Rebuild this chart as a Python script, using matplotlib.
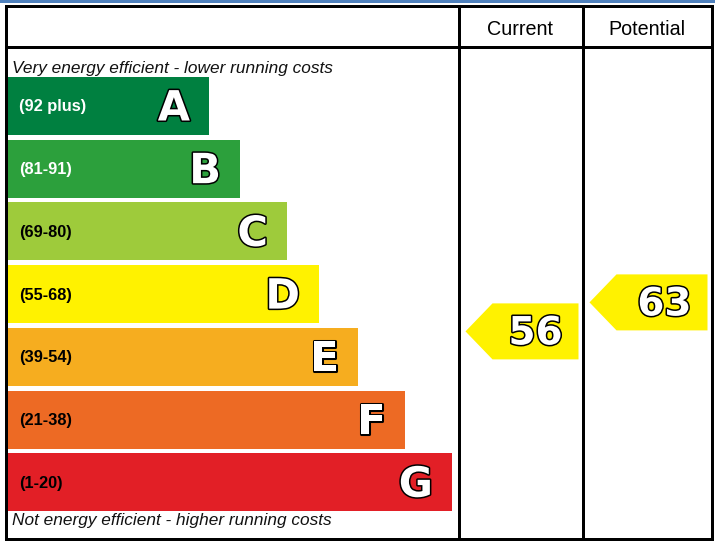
import matplotlib
matplotlib.use("Agg")
import matplotlib.pyplot as plt
import matplotlib.patheffects as pe
from matplotlib.patches import Rectangle, Polygon

# Energy efficiency bands (top = most efficient)
BAND_LETTERS = ["A", "B", "C", "D", "E", "F", "G"]
BAND_LABELS = ["(92 plus)", "(81-91)", "(69-80)", "(55-68)", "(39-54)", "(21-38)", "(1-20)"]
BAND_LOW = [92, 81, 69, 55, 39, 21, 1]
BAND_HIGH = [100, 91, 80, 68, 54, 38, 20]
BAND_COLORS = ["#008040", "#2ca03c", "#9ecb3b", "#fff200", "#f6ad1f", "#ed6a24", "#e21f26"]
LABEL_COLORS = ["white", "white", "black", "black", "black", "black", "black"]

CURRENT = 56
POTENTIAL = 63
HEADERS = ["Current", "Potential"]
TOP_NOTE = "Very energy efficient - lower running costs"
BOTTOM_NOTE = "Not energy efficient - higher running costs"

# layout (pixels)
W, H = 715, 543
BAR_X0 = 7
BAR_RIGHT = [209, 240, 287, 319, 358, 405, 452]
BAR_TOP0, BAR_H, BAR_STEP = 77, 58, 62.7
COL_X = [458.5, 582.5, 711.5]
ARROW_H = 56

fig = plt.figure(figsize=(W / 100, H / 100), dpi=100)
ax = fig.add_axes([0, 0, 1, 1])
ax.set_xlim(0, W)
ax.set_ylim(H, 0)
ax.axis("off")

LW = 3 * 72 / 100

# blue strip on top
ax.add_patch(Rectangle((0, 0), W, 2.5, color="#4f81bd", lw=0))

# frame and grid lines
ax.plot([5.5, 711.5, 711.5, 5.5, 5.5], [5.5, 5.5, 538.5, 538.5, 5.5],
        color="black", lw=LW, solid_joinstyle="miter")
ax.plot([5.5, 711.5], [46.5, 46.5], color="black", lw=LW)
for x in COL_X[:2]:
    ax.plot([x, x], [5.5, 538.5], color="black", lw=LW)

for i, name in enumerate(HEADERS):
    ax.text((COL_X[i] + COL_X[i + 1]) / 2, 29.5, name, ha="center", va="center",
            fontsize=14.2, family="Liberation Sans", color="black")

ax.text(12, 68, TOP_NOTE, ha="left", va="center", fontsize=12.4,
        family="Liberation Sans", style="italic", color="#111111")
ax.text(12, 521, BOTTOM_NOTE, ha="left", va="center", fontsize=12.4,
        family="Liberation Sans", style="italic", color="#111111")

outline = [pe.withStroke(linewidth=2.2, foreground="black")]

for i, letter in enumerate(BAND_LETTERS):
    top = BAR_TOP0 + i * BAR_STEP
    ax.add_patch(Rectangle((BAR_X0, top), BAR_RIGHT[i] - BAR_X0, BAR_H,
                           color=BAND_COLORS[i], lw=0))
    cy = top + BAR_H / 2
    ax.text(19, cy + 1, BAND_LABELS[i], ha="left", va="center", fontsize=11.8,
            family="Liberation Sans", weight="bold", color=LABEL_COLORS[i])
    ax.text(BAR_RIGHT[i] - 19, cy + 2.5, letter, ha="right", va="center",
            fontsize=30, family="DejaVu Sans", weight="bold", color="white",
            path_effects=outline)


def arrow_center(score):
    for i in range(len(BAND_LETTERS)):
        if BAND_LOW[i] <= score <= BAND_HIGH[i]:
            top = BAR_TOP0 + i * BAR_STEP
            frac = (BAND_HIGH[i] - score + 0.5) / (BAND_HIGH[i] - BAND_LOW[i] + 1)
            return top + frac * BAR_H + 14.5, i
    return None, None


for k, score in enumerate([CURRENT, POTENTIAL]):
    cy, bi = arrow_center(score)
    x_right = COL_X[k + 1] - 4
    x_tip = COL_X[k] + 7
    x_body = x_tip + 27
    pts = [(x_tip, cy), (x_body, cy - ARROW_H / 2), (x_right, cy - ARROW_H / 2),
           (x_right, cy + ARROW_H / 2), (x_body, cy + ARROW_H / 2)]
    ax.add_patch(Polygon(pts, closed=True, color=BAND_COLORS[bi], lw=0))
    ax.text(x_right - 16, cy + 2, str(score), ha="right", va="center",
            fontsize=28, family="DejaVu Sans", weight="bold", color="white",
            path_effects=outline)

fig.savefig("out.png", dpi=100)
